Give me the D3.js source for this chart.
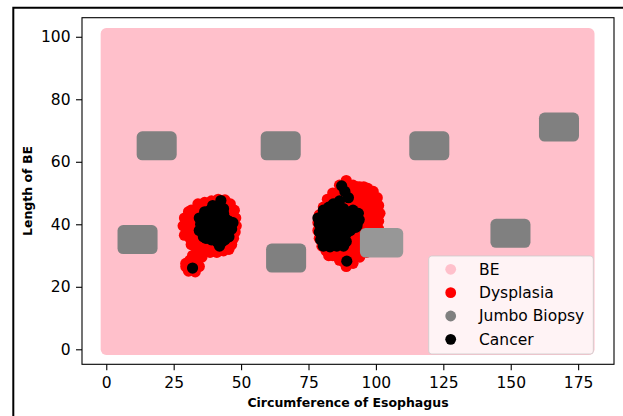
<!DOCTYPE html>
<html>
<head>
<meta charset="utf-8">
<script src="https://cdn.jsdelivr.net/npm/d3@7"></script>
<style>
  body { margin: 0; background: #fff; }
  svg { display: block; font-family: "DejaVu Sans", sans-serif; }
</style>
</head>
<body>
<svg id="chart" width="623" height="416"></svg>
<script>
// BE region extent (circumference, length)
const beX = [0, 179];
const beY = [0, 101];

// jumbo biopsy centres and sizes
const jumboX = [18.7, 64.7, 119.8, 167.9, 11.6, 66.7, 149.9, 102.1];
const jumboY = [65.1, 65.1, 65.1, 71.1, 35.1, 29.2, 37.1, 34.1];
const jumboW = [10.7, 10.7, 10.7, 10.7, 10.7, 10.7, 10.7, 11.9];
const jumboH = [5.7, 5.7, 5.7, 5.7, 5.7, 5.7, 5.7, 5.9];

// dysplasia points
const dysX = [
  34, 36.5, 39, 41.5, 44, 46, 31.5, 33.5, 47.5, 29, 31, 48, 28.5, 30, 48.2, 47.8,
  29, 31, 47.2, 46.5, 31.5, 33.5, 36, 38.5, 41, 43.5, 45.5,
  33.5, 34, 31, 29.5, 30.5, 33, 34.5,
  33, 36, 40, 44, 37, 42, 39, 35, 44,
  35, 38, 43, 30.5, 35, 38, 42, 46, 33, 35, 38, 40, 43, 46,
  30.5, 32, 35, 39, 44, 46.5, 32, 34, 40, 43, 46,
  33, 35, 37, 41, 43, 45, 33, 37, 39, 41, 42.5, 40, 42,
  32, 35.5, 32, 31.5, 29.5,
  89, 86.5, 91.5, 94, 97, 99, 84, 82, 100.5, 101, 101.5, 101, 101, 100.5, 100,
  80.5, 79, 78.5, 78.5, 79, 80, 81.5, 84, 86.5, 89, 91.5, 94, 96.5, 98.5,
  92, 95, 97, 96, 96, 93, 91, 94, 87, 84, 89,
  88, 90.5, 93, 95.5, 85.5, 88, 90.5, 93, 95, 97.5,
  84, 86, 88.5, 90, 94, 96.5, 98.5, 82, 84, 86.5, 89, 91, 93, 97.5, 99.5,
  80.5, 82.5, 85, 87.5, 90, 93, 95, 99, 80, 94.5, 96.5, 98.5,
  80, 93, 95, 98.5, 80.5, 91.5, 93.5, 98, 82, 89.5, 92, 98,
  91, 94.5, 98, 82.5, 86, 88, 91.5, 95, 82.5, 89, 92, 88, 90.5
];
const dysY = [
  46.5, 47, 47.5, 48, 47.8, 46.5, 44.5, 45, 44.5, 42, 42.5, 42, 39.5, 38.5, 39.5, 37.5,
  36.5, 35.5, 35.5, 33.5, 33.5, 32, 31.5, 31, 31, 31.5, 32,
  30, 28.5, 28.5, 26.5, 25, 24.8, 26.5,
  40, 42, 45, 44, 39, 40, 36, 34, 34,
  46, 46, 46, 44, 44, 44, 44, 44, 42, 42, 42, 42, 42, 42,
  40, 40, 40, 40, 40, 40, 38, 38, 38, 38, 38,
  36, 36, 36, 36, 36, 36, 34, 34, 34, 34, 34, 32, 32,
  30, 29.5, 27, 25.5, 27.5,
  54, 52.5, 52.5, 52, 51.5, 50.5, 50, 48, 48.5, 46, 43.5, 41, 38.5, 36, 34,
  45.5, 43, 40.5, 38, 35.5, 33, 31.5, 30, 28.5, 26.5, 27.5, 29.5, 31, 32.5,
  48, 46, 43, 39, 35, 33, 36, 37, 30, 32.5, 31,
  52, 52, 52, 52, 50, 50, 50, 50, 50, 50,
  48, 48, 48, 48, 48, 48, 48, 46, 46, 46, 46, 46, 46, 46, 46,
  44, 44, 44, 44, 44, 44, 44, 44, 42, 42, 42, 42,
  40, 40, 40, 40, 38, 38, 38, 38, 36, 36, 36, 36,
  34, 34, 34, 32, 32, 32, 32, 32, 30, 30, 30, 28, 28
];

// cancer points
const canX = [
  42.5, 43.5, 41.5, 36.5, 38.5, 40, 42, 44, 45.5, 47,
  34.5, 35, 37, 39, 41, 43, 45, 46.5,
  34.5, 36, 38, 40, 42, 44, 45.5, 37, 39, 41, 43, 42, 32,
  36, 38, 40, 42, 44, 36, 38, 40, 42, 44, 36, 38, 40, 42, 44, 40, 43.5, 39.5,
  87.3, 88.5, 89.8, 84.2, 85.5,
  80, 82, 84, 86, 88, 90, 92, 93.5,
  79, 81, 83, 85, 87, 89, 91, 93,
  79, 81, 83, 85, 87, 89,
  79.5, 81.5, 83.5, 85.5, 87.5, 89,
  80.5, 83, 85.5, 88, 89.2,
  91.5, 93.5, 93.8, 92.5, 88, 86.5, 82.5, 80.5, 78.5, 90.5, 84, 88, 82, 86, 84, 88, 82, 80
];
const canY = [
  47.6, 45, 44.5, 44, 44.5, 43.5, 42.5, 42, 41, 40.5,
  42, 40, 41, 41, 40, 39.5, 39, 38.5,
  38, 37, 38, 37.5, 37, 36.5, 36, 35.5, 35, 34.5, 34.5, 33, 26,
  42.5, 42.5, 42, 41.5, 40.5, 39, 39.5, 39, 38.5, 38, 36, 36.5, 36, 35.5, 35, 41, 43.5, 46,
  52.3, 50.5, 48.5, 46.5, 45,
  42.5, 43, 43.5, 42.5, 42, 42.5, 42, 41,
  40, 40.5, 40, 40.5, 40, 39.5, 40, 39.5,
  37.5, 37, 37.5, 37, 37.5, 37,
  35, 34.5, 35, 34.5, 35, 34.5,
  33, 32.8, 33, 33, 28.2,
  44.5, 43.5, 41.5, 39, 45, 47.5, 45.5, 44.5, 42, 38, 41.5, 41, 38.5, 38.5, 36, 36, 36, 36.5
];

const xTicks = [0, 25, 50, 75, 100, 125, 150, 175];
const yTicks = [0, 20, 40, 60, 80, 100];
const legendItems = ["BE", "Dysplasia", "Jumbo Biopsy", "Cancer"];
const legendColors = ["pink", "red", "gray", "black"];

const svg = d3.select("#chart");
const x = d3.scaleLinear().domain([-9, 188.3]).range([82, 614]);
const y = d3.scaleLinear().domain([-4.8, 106.1]).range([364.3, 17.7]);
const r = 5.6;

// figure frame
svg.append("path")
  .attr("d", "M13.3,416V7.7H623")
  .attr("fill", "none")
  .attr("stroke", "#000")
  .attr("stroke-width", 2);

// BE
svg.append("rect")
  .attr("x", x(beX[0]) - r)
  .attr("y", y(beY[1]) - r)
  .attr("width", x(beX[1]) - x(beX[0]) + 2 * r)
  .attr("height", y(beY[0]) - y(beY[1]) + 2 * r)
  .attr("rx", r)
  .attr("fill", "pink");

// dysplasia
svg.append("g").selectAll("circle")
  .data(dysX.map((d, i) => ({x: d, y: dysY[i]})))
  .enter().append("circle")
  .attr("cx", d => x(d.x))
  .attr("cy", d => y(d.y))
  .attr("r", r)
  .attr("fill", "red");

// jumbo biopsy
var jumbo = jumboX.map((d, i) => ({x: d, y: jumboY[i], w: jumboW[i], h: jumboH[i], i: i}));
svg.append("g").selectAll("rect")
  .data(jumbo)
  .enter().append("rect")
  .attr("x", d => x(d.x - d.w / 2) - r)
  .attr("y", d => y(d.y + d.h / 2) - r)
  .attr("width", d => x(d.x + d.w / 2) - x(d.x - d.w / 2) + 2 * r)
  .attr("height", d => y(d.y - d.h / 2) - y(d.y + d.h / 2) + 2 * r)
  .attr("rx", r)
  .attr("fill", d => d.i === 7 ? "#979797" : "gray");

// cancer
svg.append("g").selectAll("circle")
  .data(canX.map((d, i) => ({x: d, y: canY[i]})))
  .enter().append("circle")
  .attr("cx", d => x(d.x))
  .attr("cy", d => y(d.y))
  .attr("r", r)
  .attr("fill", "black");

// axes
var xAxis = svg.append("g")
  .attr("transform", "translate(0,364.3)")
  .call(d3.axisBottom(x).tickValues(xTicks).tickSize(6).tickPadding(6.5));
var yAxis = svg.append("g")
  .attr("transform", "translate(82,0)")
  .call(d3.axisLeft(y).tickValues(yTicks).tickSize(6).tickPadding(5.5));
[xAxis, yAxis].forEach(function(a) {
  a.select(".domain").remove();
  a.selectAll("line").attr("stroke", "#000").attr("stroke-width", 1.1);
  a.selectAll("text")
    .attr("fill", "#000")
    .style("font-size", "15.5px")
    .style("font-family", "DejaVu Sans");
});

svg.append("rect")
  .attr("x", 82).attr("y", 17.7)
  .attr("width", 532).attr("height", 346.6)
  .attr("fill", "none")
  .attr("stroke", "#000")
  .attr("stroke-width", 1.1);

svg.append("text")
  .attr("x", 348).attr("y", 407)
  .attr("text-anchor", "middle")
  .style("font-size", "12.5px")
  .style("font-weight", "bold")
  .text("Circumference of Esophagus");

svg.append("text")
  .attr("transform", "translate(31.8,191) rotate(-90)")
  .attr("text-anchor", "middle")
  .style("font-size", "12.5px")
  .style("font-weight", "bold")
  .text("Length of BE");

// legend
var lg = svg.append("g");
lg.append("rect")
  .attr("x", 428.7).attr("y", 256)
  .attr("width", 164.6).attr("height", 98)
  .attr("rx", 3)
  .attr("fill", "#fff")
  .attr("fill-opacity", 0.8)
  .attr("stroke", "#ccc")
  .attr("stroke-opacity", 0.8);

var item = lg.selectAll(".item")
  .data(legendItems)
  .enter().append("g")
  .attr("class", "item")
  .attr("transform", (d, i) => "translate(450.7," + (269.3 + i * 23.35) + ")");
item.append("circle")
  .attr("r", 5.4)
  .attr("fill", (d, i) => legendColors[i]);
item.append("text")
  .attr("x", 28.3).attr("y", 5.4)
  .style("font-size", "15.5px")
  .text(d => d);
</script>
</body>
</html>
